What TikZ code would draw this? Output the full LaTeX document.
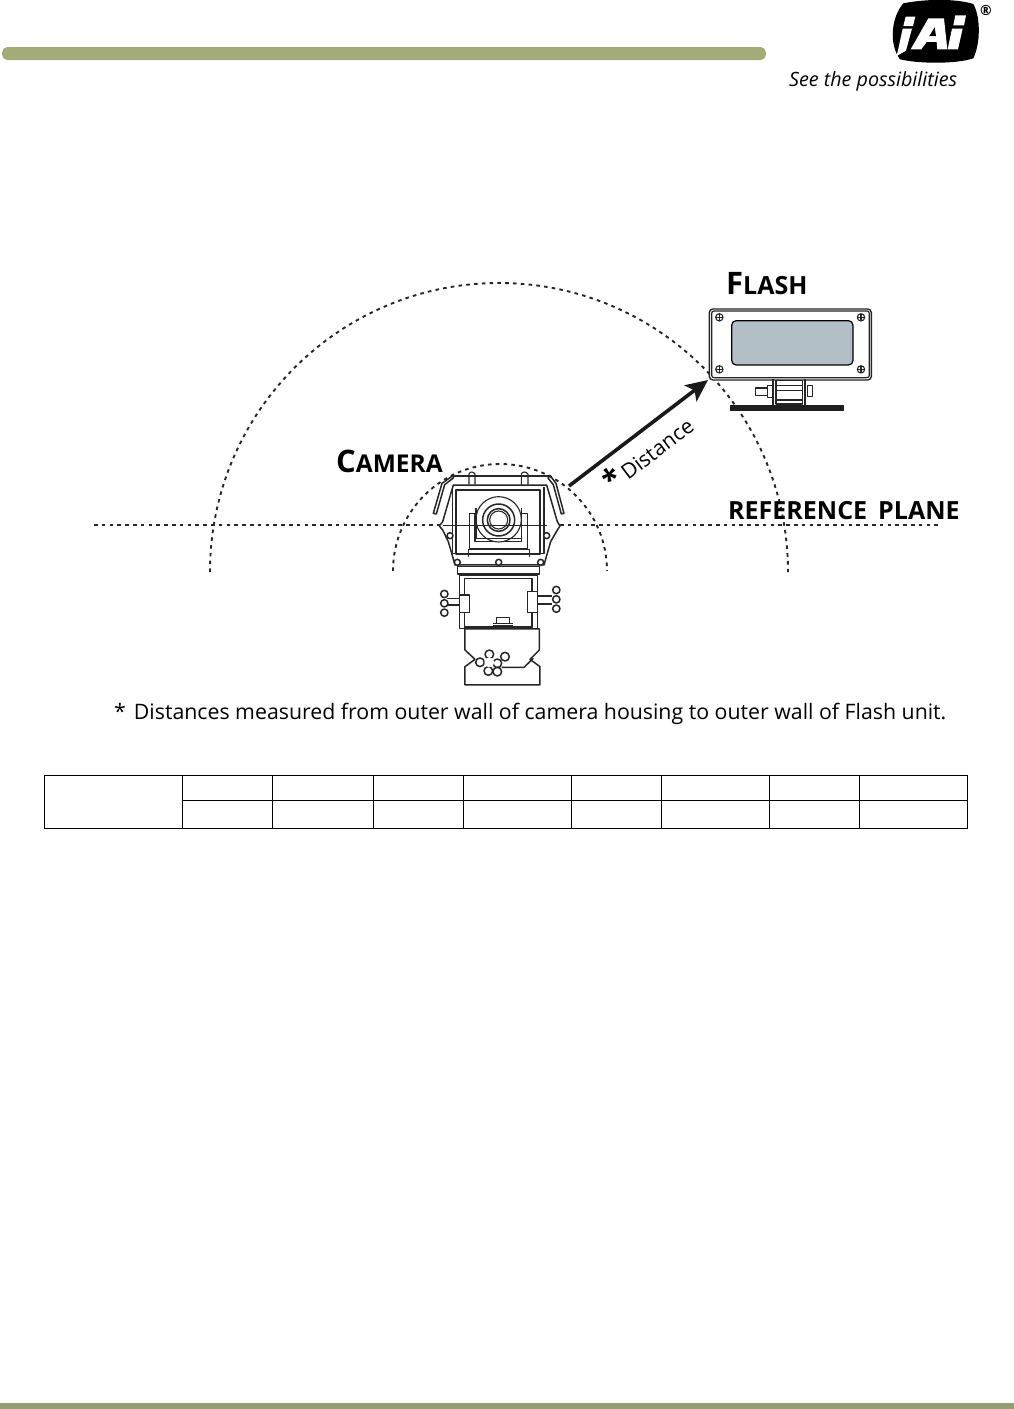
\documentclass[tikz,border=0pt]{standalone}
\usepackage{fontspec}
\setmainfont{Open Sans}
\usetikzlibrary{arrows.meta}
\definecolor{barA}{HTML}{A3AB79}
\definecolor{barB}{HTML}{959E72}
\definecolor{glass}{HTML}{B3BFC6}
\tikzset{
  guide/.style={line width=1.9pt,dash pattern=on 3.6pt off 4.2pt,black!85},
  cam/.style={line width=1.5pt,black!85,line join=round},
  camthin/.style={line width=1.1pt,black!85,line join=round},
  cell/.style={line width=.9pt,black},
  label/.style={inner sep=0pt,anchor=base west,font=\bfseries},
  zoomed/.style={x=0.3333pt,y=-0.3333pt}
}
\begin{document}
\begin{tikzpicture}[x=1pt,y=-1pt]
\useasboundingbox (0,0) rectangle (1014,1409);
% header / footer
\fill[barA,rounded corners=5.5pt] (2,47) rectangle (766,60);
\fill[barB] (0,1403) rectangle (1014,1409);
% logo
\begin{scope}[shift={(760,0)},zoomed]
 \fill[black] (430,10) .. controls (500,-4) and (590,-4) .. (640,12) .. controls (662,50) and (662,130) .. (640,175) .. controls (590,192) and (480,192) .. (420,178) .. controls (385,130) and (395,50) .. (430,10) -- cycle;
 \fill[white] (437,50) -- (466,50) -- (459,78) -- (430,78) -- cycle;
 \fill[white] (428,86) -- (456,86) -- (438,152) -- (410,168) -- (416,142) -- cycle;
 \fill[white] (505,55) -- (552,55) -- (562,148) -- (532,148) -- (530,126) -- (500,126) -- (484,148) -- (452,148) -- cycle;
 \fill[black] (524,82) -- (528,108) -- (508,108) -- cycle;
 \fill[white] (586,46) -- (618,46) -- (612,76) -- (580,76) -- cycle;
 \fill[white] (576,86) -- (608,86) -- (594,148) -- (563,148) -- cycle;
 \node[inner sep=0pt,font=\fontsize{14}{14}\selectfont\bfseries] (reg) at (678,32) {®};
 \node[inner sep=0pt,anchor=base west,font=\fontsize{19.7}{19.7}\selectfont\itshape] (slogan) at (87,260) {See the possibilities};
\end{scope}
% camera
\begin{scope}[shift={(420,450)},zoomed]
 \draw[cam,fill=white] (100,105) -- (380,105) -- (412,215) -- (420,228) -- (412,240) -- (392,275) -- (372,345) -- (105,345) -- (85,275) -- (68,240) -- (58,228) -- (68,215) -- cycle;
 \draw[camthin] (108,120) rectangle (360,312);
 \draw[camthin] (98,112) -- (98,310) -- (372,310) -- (372,112);
 % hood
 \draw[line width=2.6pt,black!85] (100,78) -- (390,78);
 \draw[cam,fill=white] (40,190) -- (66,100) -- (100,76) -- (100,84) -- (74,104) -- (49,192) -- cycle;
 \draw[cam,fill=white] (432,190) -- (408,100) -- (390,76) -- (384,84) -- (400,104) -- (424,192) -- cycle;
 \draw[camthin] (147,104) -- (147,72) .. controls (150,64) and (160,64) .. (165,72) -- (165,104);
 \draw[camthin] (304,104) -- (304,72) .. controls (307,64) and (318,64) .. (324,72) -- (324,104);
 % lens
 \draw[camthin] (148,190) -- (165,190) -- (165,275) -- (305,275) -- (305,190) -- (322,190) -- (322,295) -- (148,295) -- cycle;
 \draw[camthin,fill=white] (236,208) circle (68);
 \draw[cam] (236,210) circle (48);
 \draw[cam] (236,210) circle (34);
 \draw[camthin] (236,210) circle (27);
 \draw[camthin] (168,175) -- (168,265) -- (305,265) -- (305,175);
 \draw[cam] (146,298) -- (328,298) (146,298) -- (146,320) (328,298) -- (328,320);
 % bolts
 \foreach \p in {(90,257),(380,257),(112,337),(236,337),(362,337)} \draw[cam,fill=white] \p circle (9);
 % neck
 \draw[cam,fill=white] (112,350) rectangle (358,372);
 \draw[cam] (125,372) -- (346,372);
 % bracket
 \draw[cam,fill=white] (118,376) rectangle (352,535);
 \draw[cam] (134,386) rectangle (336,532);
 \draw[cam,fill=white] (118,435) rectangle (148,488);
 \draw[cam,fill=white] (352,425) rectangle (322,488);
 \draw[line width=2.4pt,black!85] (135,532) -- (335,532);
 \draw[cam,fill=white] (230,503) rectangle (268,520);
 \draw[cam] (220,528) -- (280,528) (220,520) -- (280,520);
 % knobs
 \draw[cam] (82,445) -- (118,445) (82,465) -- (118,465);
 \draw[cam] (352,438) -- (395,438) (352,462) -- (395,462);
 \foreach \y in {432,460,488} \draw[cam,fill=white] (73,\y) circle (11);
 \foreach \y in {420,448,476} \draw[cam,fill=white] (409,\y) circle (11);
 % base
 \draw[cam,fill=white] (135,537) -- (358,537) -- (358,600) -- (330,628) -- (360,650) -- (360,705) -- (135,705) -- (135,650) -- (165,628) -- (135,600) -- cycle;
 \draw[cam] (245,652) -- (312,652) -- (340,625);
 \foreach \p in {(208,613),(180,637),(205,663),(232,640),(255,620),(232,665)} \draw[cam,fill=white] \p circle (13);
 \fill[white] (208,637) circle (15);
 % axis through the lens
 \draw[camthin] (70,226) -- (380,226);
\end{scope}
% guides
\coordinate (refL) at (94,525);
\coordinate (camL) at (440,525);
\coordinate (camR) at (560,525);
\coordinate (refR) at (942,525);
\draw[guide] (refL) -- (camL) (camR) -- (refR);
\draw[guide] (210,572) arc[start angle=180,end angle=360,radius=289];
\draw[guide] (393,571) arc[start angle=180,end angle=360,radius=107];
% flash
\begin{scope}[shift={(690,260)},zoomed]
 \draw[line width=1.4pt,black!85,rounded corners=3.6pt,fill=white] (58,147) rectangle (544,360);
 \draw[line width=1.2pt,black!85,rounded corners=2.4pt] (65,153) rectangle (538,353);
 \draw[line width=1.2pt,black,rounded corners=4.5pt,fill=glass] (125,182) rectangle (489,315);
 \foreach \p in {(88,172),(513,172),(88,328),(513,328)} {\draw[camthin] \p circle (11); \draw[camthin] \p +(-11,0) -- +(11,0) +(0,-11) -- +(0,11);}
 \draw[camthin] (196,384) rectangle (232,406);
 \draw[camthin] (232,376) rectangle (250,413);
 \draw[camthin] (352,376) rectangle (368,410);
 \draw[camthin] (258,362) rectangle (338,432);
 \draw[camthin] (258,376) -- (338,376) (258,392) -- (338,392) (258,420) -- (338,420);
 \draw[line width=2pt,black!85] (248,358) -- (248,436) (345,358) -- (345,436);
 \fill[black!88] (120,436) rectangle (461,453);
\end{scope}
% arrow
\coordinate (arrowA) at (569,486);
\coordinate (arrowB) at (708,380);
\draw[line width=3.6pt,black!90,-{Stealth[length=22pt,width=20pt,inset=5pt]}] (arrowA) -- (arrowB);
% labels
\node[label] (flash) at (726,294) {\fontsize{31}{31}\selectfont F\fontsize{25}{25}\selectfont LASH};
\node[label] (camera) at (336,472) {\fontsize{31}{31}\selectfont C\fontsize{24.5}{24.5}\selectfont AMERA};
\node[label] (plane) at (728,519) {\fontsize{25}{25}\selectfont REFERENCE\hspace{11pt}PLANE};
\node[inner sep=0pt,rotate=37,font=\fontsize{21}{21}\selectfont] (dist) at (647,452) {{\fontsize{30}{30}\selectfont\bfseries *}\,Distance};
\node[inner sep=0pt,anchor=base west,font=\fontsize{21.3}{21.3}\selectfont] (note) at (114,719) {*\hspace{8pt}Distances measured from outer wall of camera housing to outer wall of Flash unit.};
% table
\draw[cell] (44,775) rectangle (967,828);
\draw[cell] (182,800) -- (967,800);
\foreach \x in {182,272,373,463,571,661,769,859} \draw[cell] (\x,775) -- (\x,828);
\end{tikzpicture}
\end{document}
